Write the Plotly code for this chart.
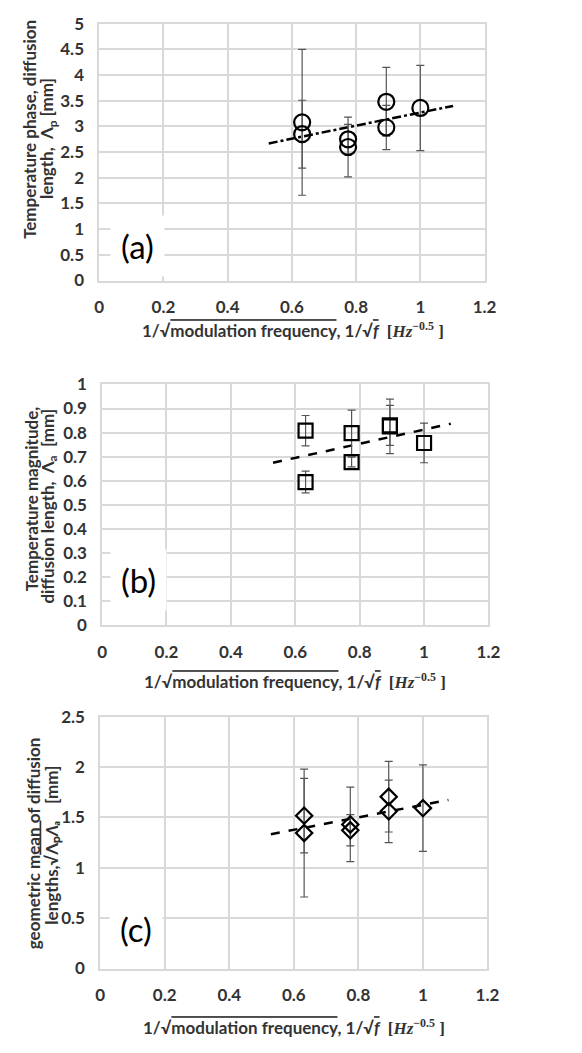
import plotly.graph_objects as go

# ---------- data ----------
x_vals_a = [0.632, 0.632, 0.775, 0.775, 0.894, 0.894, 1.0]
y_vals_a = [3.08, 2.85, 2.75, 2.60, 3.48, 2.98, 3.36]
err_a    = [1.42, 0.66, 0.29, 0.58, 0.67, 0.43, 0.83]
trend_x_a = [0.528, 1.102]
trend_y_a = [2.67, 3.40]

x_vals_b = [0.632, 0.632, 0.775, 0.775, 0.894, 0.894, 1.0]
y_vals_b = [0.808, 0.595, 0.798, 0.678, 0.826, 0.830, 0.757]
err_b    = [0.063, 0.045, 0.095, 0.020, 0.113, 0.083, 0.082]
trend_x_b = [0.531, 1.083]
trend_y_b = [0.675, 0.837]

x_vals_c = [0.632, 0.632, 0.775, 0.775, 0.894, 0.894, 1.0]
y_vals_c = [1.517, 1.345, 1.43, 1.372, 1.705, 1.56, 1.592]
err_c    = [0.37, 0.635, 0.37, 0.155, 0.35, 0.31, 0.43]
trend_x_c = [0.529, 1.079]
trend_y_c = [1.333, 1.673]

x_ticks = [0, 0.2, 0.4, 0.6, 0.8, 1, 1.2]
y_ticks_a = [0, 0.5, 1, 1.5, 2, 2.5, 3, 3.5, 4, 4.5, 5]
y_ticks_b = [0, 0.1, 0.2, 0.3, 0.4, 0.5, 0.6, 0.7, 0.8, 0.9, 1]
y_ticks_c = [0, 0.5, 1, 1.5, 2, 2.5]

# ---------- layout helpers ----------
W, H = 582, 1053
def px(v): return v / W
def py(v): return 1 - v / H

GRID = "#d9d9d9"
TXT = "#333333"
FONT = "Lato"

panels = [
    dict(x=x_vals_a, y=y_vals_a, e=err_a, tx=trend_x_a, ty=trend_y_a, sym="circle-open",
         size=16, dash="dashdot", yt=y_ticks_a, yr=[0, 5], xd=(97, 494), yd=(13, 275)),
    dict(x=x_vals_b, y=y_vals_b, e=err_b, tx=trend_x_b, ty=trend_y_b, sym="square-open",
         size=14, dash="dash", yt=y_ticks_b, yr=[0, 1], xd=(100, 498), yd=(381, 627)),
    dict(x=x_vals_c, y=y_vals_c, e=err_c, tx=trend_x_c, ty=trend_y_c, sym="diamond-open",
         size=12.5, dash="dash", yt=y_ticks_c, yr=[0, 2.5], xd=(98, 497), yd=(720, 977)),
]

fig = go.Figure()
layout = {}
for i, p in enumerate(panels):
    n = "" if i == 0 else str(i + 1)
    xa, ya = "x" + n, "y" + n
    fig.add_trace(go.Scatter(
        x=p["tx"], y=p["ty"], mode="lines", xaxis=xa, yaxis=ya,
        line=dict(color="black", width=2.5, dash=p["dash"]), showlegend=False))
    fig.add_trace(go.Scatter(
        x=p["x"], y=p["y"], mode="markers", xaxis=xa, yaxis=ya,
        marker=dict(symbol=p["sym"], size=p["size"], color="black",
                    line=dict(color="black", width=2.2)),
        error_y=dict(type="data", array=p["e"], visible=True, color="#555555",
                     thickness=1.2, width=4),
        showlegend=False))
    axis_common = dict(showgrid=True, gridcolor=GRID, gridwidth=1.5, zeroline=False,
                       showline=True, linecolor=GRID, linewidth=1.5, mirror=True,
                       ticks="outside", tickcolor="rgba(0,0,0,0)",
                       tickfont=dict(family=FONT, size=17, color=TXT))
    layout["xaxis" + n] = dict(axis_common, range=[0, 1.2], tickvals=x_ticks,
                               ticktext=[f"<b>{v:g}</b>" for v in x_ticks], ticklen=10,
                               domain=[px(p["xd"][0]), px(p["xd"][1])], anchor=ya)
    layout["yaxis" + n] = dict(axis_common, range=p["yr"], tickvals=p["yt"],
                               ticktext=[f"<b>{v:g}</b>" for v in p["yt"]], ticklen=10,
                               domain=[py(p["yd"][1]), py(p["yd"][0])], anchor=xa)

serif = "font-family:'Liberation Serif'"
xtitle = ("<b>1/√<span style='text-decoration:overline'>modulation frequency</span>, "
          f"1/√<span style='text-decoration:overline;{serif}'><i>f</i></span>  "
          f"<span style=\"{serif}\">[<i>Hz</i><sup>−0.5</sup> ]</span></b>")

ann = []
for yc, xc in [(325, 297), (684, 299), (1037, 298)]:
    ann.append(dict(x=px(xc), y=py(yc), xref="paper", yref="paper", text=xtitle,
                    xanchor="center", yanchor="middle",
                    showarrow=False, font=dict(family=FONT, size=17, color=TXT)))

ytitles = [
    ("<b>Temperature phase, diffusion</b>", 25, 121),
    ("<b>length,  Λ<sub>p</sub> [mm]</b>", 45, 130),
    ("<b>Temperature magnitude,</b>", 27, 498),
    ("<b>diffusion length,  Λ<sub>a</sub>  [mm]</b>", 45, 505),
    ("<b>geometric mean of diffusion</b>", 29, 849),
    ("<b>lengths,√<span style='text-decoration:overline'>Λₚ<i>Λₐ</i></span>    [mm]</b>", 48, 851),
]
for t, xc, yc in ytitles:
    ann.append(dict(x=px(xc), y=py(yc), xref="paper", yref="paper", text=t, textangle=-90,
                    xanchor="center", yanchor="middle",
                    showarrow=False, font=dict(family=FONT, size=17, color=TXT)))

for lab, xc, yc in [("(a)", 137, 240), ("(b)", 138, 581), ("(c)", 135, 937)]:
    ann.append(dict(x=px(xc), y=py(yc), xref="paper", yref="paper", text=lab,
                    xanchor="center", yanchor="middle",
                    showarrow=False, bgcolor="white", borderpad=10,
                    font=dict(family=FONT, size=33, color="black")))

fig.update_layout(**layout)
fig.update_layout(width=W, height=H, margin=dict(l=0, r=0, t=0, b=0),
                  paper_bgcolor="white", plot_bgcolor="white", annotations=ann)
fig.write_html("out.html")
